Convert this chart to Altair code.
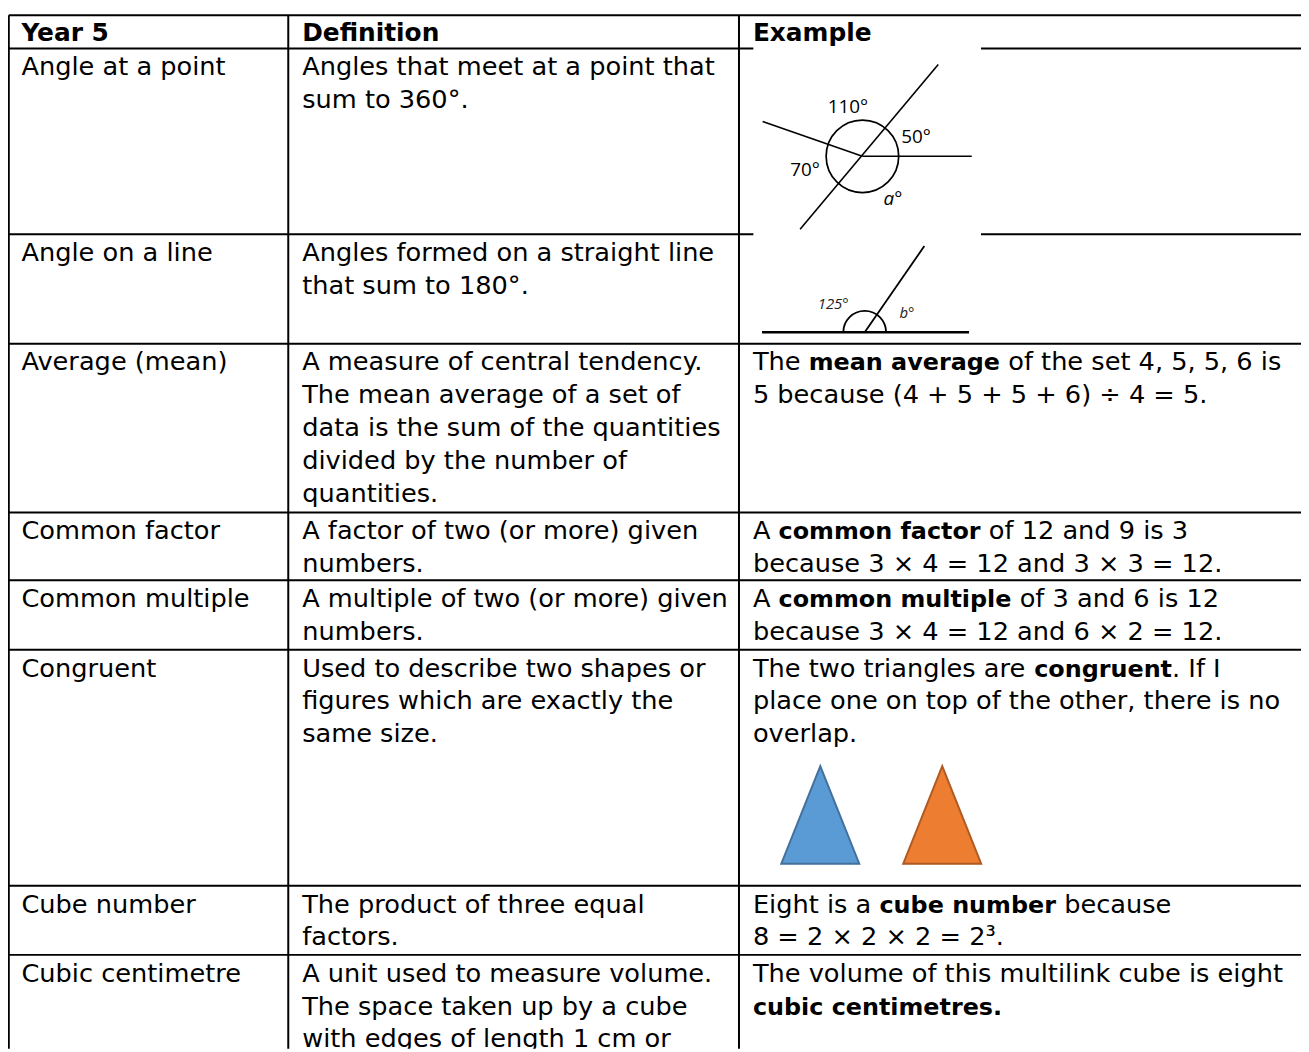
import altair as alt
import pandas as pd

# ---------------- table content ----------------
col_headers = ["Year 5", "Definition", "Example"]
terms = ["Angle at a point", "Angle on a line", "Average (mean)", "Common factor",
         "Common multiple", "Congruent", "Cube number", "Cubic centimetre"]
definitions = [
    ["Angles that meet at a point that", "sum to 360°."],
    ["Angles formed on a straight line", "that sum to 180°."],
    ["A measure of central tendency.", "The mean average of a set of",
     "data is the sum of the quantities", "divided by the number of", "quantities."],
    ["A factor of two (or more) given", "numbers."],
    ["A multiple of two (or more) given", "numbers."],
    ["Used to describe two shapes or", "figures which are exactly the", "same size."],
    ["The product of three equal", "factors."],
    ["A unit used to measure volume.", "The space taken up by a cube",
     "with edges of length 1 cm or"],
]
examples = [
    None,
    None,
    [[("The ", False), ("mean average", True), (" of the set 4, 5, 5, 6 is", False)],
     [("5 because (4 + 5 + 5 + 6) ÷ 4 = 5.", False)]],
    [[("A ", False), ("common factor", True), (" of 12 and 9 is 3", False)],
     [("because 3 × 4 = 12 and 3 × 3 = 12.", False)]],
    [[("A ", False), ("common multiple", True), (" of 3 and 6 is 12", False)],
     [("because 3 × 4 = 12 and 6 × 2 = 12.", False)]],
    [[("The two triangles are ", False), ("congruent", True), (". If I", False)],
     [("place one on top of the other, there is no", False)],
     [("overlap.", False)]],
    [[("Eight is a ", False), ("cube number", True), (" because", False)],
     [("8 = 2 × 2 × 2 = 2³.", False)]],
    [[("The volume of this multilink cube is eight", False)],
     [("cubic centimetres.", True)]],
]

# diagram labels
point_labels = ["110°", "50°", "70°", "a°"]
line_labels = ["125°", "b°"]
triangle_names = ["blue", "orange"]

# ---------------- layout (pixel coordinates of the page) ----------------
X0, X1, Y0, Y1 = 8, 1309, 8, 1052
col_edges = [8.8, 290, 743.5]
row_edges = [12, 45.5, 232.5, 342.5, 512.5, 580.5, 650.5, 888, 957.5]
text_x = [21.5, 304, 757.5]
gap_rows = [45.5, 232.5]
gap = (758, 987)
FIRST = 27
LINE = 33
REG_SIZE = 25.8
BOLD_SIZE = 24
HEAD_SIZE = 25

# DejaVu Sans advance widths (1/1000 em) for inline bold placement
REG_W = {' ': 318, 'T': 611, 'h': 634, 'e': 615, 'A': 684, 'w': 818, 'o': 612, 't': 392,
         'r': 411, 'i': 278, 'a': 613, 'n': 634, 'g': 635, 'l': 278, 's': 521, 'E': 632}
BOLD_W = {' ': 348, 'm': 1042, 'e': 678, 'a': 675, 'n': 712, 'v': 652, 'r': 493, 'g': 716,
          'c': 593, 'o': 687, 'f': 435, 't': 478, 'u': 712, 'l': 343, 'i': 343, 'p': 716,
          'b': 716}


def layout_line(segs, x0, y):
    out = []
    cur = x0
    for txt, bold in segs:
        size = BOLD_SIZE if bold else REG_SIZE
        table = BOLD_W if bold else REG_W
        lead = len(txt) - len(txt.lstrip(' '))
        cur += lead * table[' '] * size / 1000
        core = txt.strip(' ')
        out.append(dict(x=cur, y=y, text=core, bold=bold))
        cur += sum(table.get(c, 600) for c in core) * size / 1000
        trail = len(txt) - len(txt.rstrip(' '))
        cur += trail * table[' '] * size / 1000
    return out


texts = []
head = []
for j, h in enumerate(col_headers):
    head.append(dict(x=text_x[j], y=row_edges[0] + 26, text=h))
for i, term in enumerate(terms):
    top = row_edges[i + 1]
    texts.append(dict(x=text_x[0], y=top + FIRST, text=term, bold=False))
    for k, ln in enumerate(definitions[i]):
        texts.append(dict(x=text_x[1], y=top + FIRST + LINE * k, text=ln, bold=False))
    if examples[i] is not None:
        for k, segs in enumerate(examples[i]):
            texts.extend(layout_line(segs, text_x[2], top + FIRST + LINE * k))
tdf = pd.DataFrame(texts)
reg_df = tdf[~tdf["bold"]]
bold_df = tdf[tdf["bold"]]
head_df = pd.DataFrame(head)

# table rules
rules = []
for cx in col_edges:
    rules.append(dict(x=cx, y=row_edges[0], x2=cx, y2=Y1, w=2))
for ry in row_edges:
    if ry in gap_rows:
        rules.append(dict(x=col_edges[0], y=ry, x2=gap[0], y2=ry, w=2))
        rules.append(dict(x=gap[1], y=ry, x2=X1, y2=ry, w=2))
    else:
        rules.append(dict(x=col_edges[0], y=ry, x2=X1, y2=ry, w=2))
# diagram lines
rules += [
    dict(x=805, y=227.3, x2=944, y2=61.7, w=1.6),
    dict(x=767.3, y=119, x2=867.7, y2=154, w=1.6),
    dict(x=867.7, y=154, x2=977.7, y2=154, w=1.6),
    dict(x=766.7, y=331, x2=975, y2=331, w=2.6),
    dict(x=870, y=331, x2=930, y2=244.3, w=1.8),
]
rdf = pd.DataFrame(rules)

lab_df = pd.DataFrame(dict(
    text=point_labels,
    x=[832.7, 906.7, 795, 889],
    y=[110, 141, 174, 203],
    style=["normal", "normal", "normal", "italic"],
))
lab2_df = pd.DataFrame(dict(text=line_labels, x=[822.7, 905], y=[307.7, 316.7]))
circ_df = pd.DataFrame(dict(x=[867.7], y=[154]))
semi_df = pd.DataFrame(dict(x=[870], y=[331]))
tri_df = pd.DataFrame(dict(name=triangle_names, x=[825.3, 948], y=[816.7, 816.7]))

xs = alt.Scale(domain=[X0, X1], nice=False, zero=False)
ys = alt.Scale(domain=[Y1, Y0], nice=False, zero=False)


def X(f="x"):
    return alt.X(f"{f}:Q", scale=xs, axis=None)


def Y(f="y"):
    return alt.Y(f"{f}:Q", scale=ys, axis=None)


rule_layer = alt.Chart(rdf).mark_rule(color="black", strokeCap="butt").encode(
    x=X(), y=Y(), x2="x2:Q", y2="y2:Q",
    strokeWidth=alt.StrokeWidth("w:Q", scale=None, legend=None),
)

reg_layer = alt.Chart(reg_df).mark_text(
    align="left", baseline="alphabetic", font="DejaVu Sans", fontSize=REG_SIZE,
    color="black", clip=True,
).encode(x=X(), y=Y(), text="text:N")

bold_layer = alt.Chart(bold_df).mark_text(
    align="left", baseline="alphabetic", font="DejaVu Sans", fontSize=BOLD_SIZE,
    fontWeight="bold", color="black", clip=True,
).encode(x=X(), y=Y(), text="text:N")

head_layer = alt.Chart(head_df).mark_text(
    align="left", baseline="alphabetic", font="DejaVu Sans", fontSize=HEAD_SIZE,
    fontWeight="bold", color="black",
).encode(x=X(), y=Y(), text="text:N")

lab_layer = alt.Chart(lab_df[lab_df["style"] == "normal"]).mark_text(
    align="left", baseline="alphabetic", font="Open Sans", fontSize=19, color="black",
).encode(x=X(), y=Y(), text="text:N")

lab_it_layer = alt.Chart(lab_df[lab_df["style"] == "italic"]).mark_text(
    align="left", baseline="alphabetic", font="Open Sans", fontSize=19,
    fontStyle="italic", color="black",
).encode(x=X(), y=Y(), text="text:N")

lab2_layer = alt.Chart(lab2_df).mark_text(
    align="left", baseline="alphabetic", font="Open Sans", fontSize=15,
    fontStyle="italic", color="#222222",
).encode(x=X(), y=Y(), text="text:N")

circ_layer = alt.Chart(circ_df).mark_point(
    shape="circle", size=73 * 73, filled=False, color="black", strokeWidth=1.7, opacity=1,
).encode(x=X(), y=Y())

semi_layer = alt.Chart(semi_df).mark_point(
    shape="M -1 0 A 1 1 0 0 1 1 0", size=43 * 43, filled=False, color="black",
    strokeWidth=1.8, opacity=1,
).encode(x=X(), y=Y())

tri_layer = alt.Chart(tri_df).mark_point(
    shape="M 0 -1 L 0.8 1 L -0.8 1 Z", size=98 * 98, filled=True, opacity=1,
    strokeWidth=2,
).encode(
    x=X(), y=Y(),
    fill=alt.Fill("name:N", scale=alt.Scale(domain=triangle_names,
                                            range=["#5B9BD5", "#ED7D31"]), legend=None),
    stroke=alt.Stroke("name:N", scale=alt.Scale(domain=triangle_names,
                                                range=["#41719C", "#AE5A21"]), legend=None),
)

chart = alt.layer(
    rule_layer, circ_layer, semi_layer, tri_layer,
    reg_layer, bold_layer, head_layer, lab_layer, lab_it_layer, lab2_layer,
).properties(
    width=X1 - X0, height=Y1 - Y0, padding=0, autosize="none", background="white",
).configure_view(strokeWidth=0)

chart.save("out.html", embed_options={"renderer": "svg", "actions": False})
